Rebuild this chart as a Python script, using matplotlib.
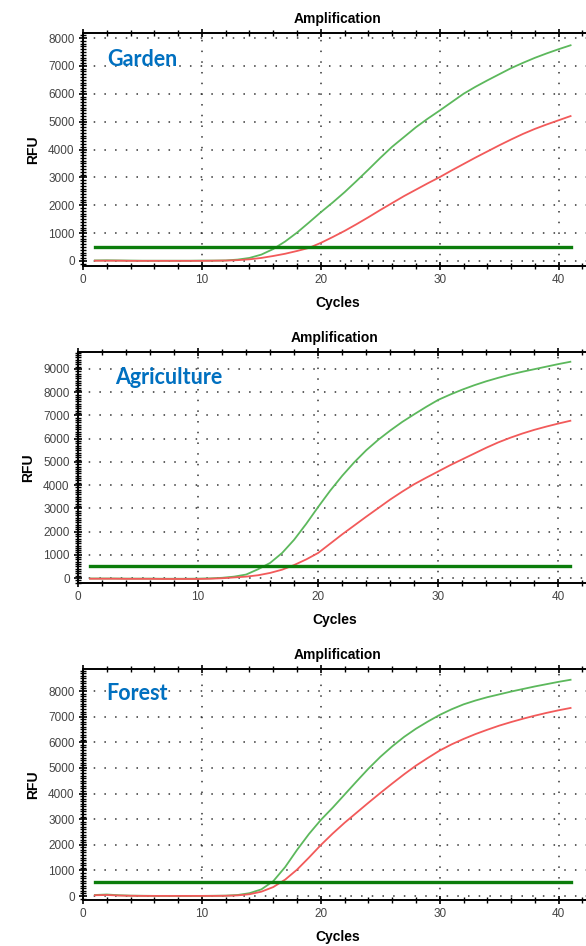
import matplotlib.pyplot as plt
from matplotlib.ticker import MultipleLocator
import numpy as np

plt.rcParams['font.family'] = ['Liberation Sans', 'DejaVu Sans']

cycles = np.arange(1, 42)

# Garden
garden_green = [20, 25, 20, 15, 10, 10, 10, 10, 10, 15, 15, 20, 50, 110, 230, 430, 700, 1020,
                1380, 1750, 2100, 2470, 2870, 3280, 3700, 4100, 4450, 4800, 5110, 5400, 5700,
                6000, 6250, 6480, 6700, 6920, 7110, 7290, 7450, 7600, 7740]
garden_red = [10, 10, 10, 5, 5, 5, 5, 5, 5, 5, 10, 15, 30, 60, 110, 180, 260, 360, 470, 650,
              860, 1080, 1320, 1570, 1830, 2080, 2330, 2560, 2790, 3010, 3250, 3480, 3710,
              3930, 4150, 4360, 4560, 4740, 4900, 5050, 5200]
garden_threshold = 500

# Agriculture
agri_green = [-20, -20, -20, -25, -25, -25, -30, -30, -30, -25, -15, 10, 60, 150, 380, 650,
              1080, 1650, 2330, 3060, 3760, 4400, 4980, 5500, 5950, 6350, 6720, 7050, 7370,
              7670, 7900, 8110, 8300, 8470, 8620, 8760, 8880, 8990, 9100, 9210, 9310]
agri_red = [-30, -30, -30, -35, -35, -35, -40, -40, -40, -40, -30, -10, 25, 60, 120, 220, 360,
            560, 800, 1080, 1480, 1880, 2260, 2640, 3010, 3380, 3720, 4040, 4320, 4590, 4860,
            5110, 5360, 5610, 5840, 6040, 6220, 6380, 6520, 6650, 6770]
agri_threshold = 520

# Forest
forest_green = [40, 60, 30, 15, 10, 5, 5, 5, 5, 5, 10, 15, 40, 110, 260, 580, 1130, 1800,
                2420, 2970, 3450, 3960, 4470, 4970, 5430, 5840, 6210, 6530, 6810, 7070, 7290,
                7480, 7630, 7760, 7870, 7980, 8080, 8180, 8270, 8360, 8440]
forest_red = [30, 40, 20, 10, 5, 5, 5, 5, 5, 5, 5, 10, 25, 70, 170, 350, 640, 1030, 1500, 1990,
              2440, 2860, 3250, 3640, 4020, 4390, 4750, 5090, 5390, 5680, 5920, 6130, 6320,
              6490, 6650, 6790, 6920, 7040, 7150, 7250, 7340]
forest_threshold = 550

panels = [
    ('Garden', garden_green, garden_red, garden_threshold, [0.1416, 0.7188, 0.8686, 0.2463],
     (-180, 8180), (0, 42.8), (107, 60)),
    ('Agriculture', agri_green, agri_red, agri_threshold, [0.1331, 0.3837, 0.8771, 0.2442],
     (-215, 9730), (0, 42.8), (115, 378)),
    ('Forest', forest_green, forest_red, forest_threshold, [0.1416, 0.0486, 0.8686, 0.2442],
     (-156, 8860), (0, 42.8), (106, 693)),
]

fig = plt.figure(figsize=(5.86, 9.46), dpi=100)

for name, green, red, thr, pos, ylim, xlim, lab in panels:
    ax = fig.add_axes(pos)
    ax.plot(cycles, green, color='#5cb85c', lw=1.3, zorder=3)
    ax.plot(cycles, red, color='#f25a5a', lw=1.3, zorder=3)
    ax.plot([cycles[0], cycles[-1]], [thr, thr], color='#0b7d0b', lw=2.4, zorder=4)

    ax.set_xlim(*xlim)
    ax.set_ylim(*ylim)
    ax.xaxis.set_major_locator(MultipleLocator(10))
    ax.xaxis.set_minor_locator(MultipleLocator(2))
    ax.yaxis.set_major_locator(MultipleLocator(1000))
    ax.yaxis.set_minor_locator(MultipleLocator(100))

    ax.grid(True, which='major', color='#333333', lw=1.1, linestyle=(0, (1, 6)))
    ax.spines['right'].set_visible(False)
    for s in ['left', 'bottom', 'top']:
        ax.spines[s].set_linewidth(1.4)

    ax.tick_params(which='major', direction='inout', length=6, width=1.2, pad=3,
                   labelsize=8.5, labelcolor='#444444', top=True)
    ax.tick_params(which='minor', direction='inout', length=4, width=1.0, top=True)
    ax.tick_params(axis='x', which='both', labeltop=False)

    ax.set_title('Amplification', fontsize=10, fontweight='bold', pad=7)
    ax.set_xlabel('Cycles', fontsize=10, fontweight='bold', labelpad=7)
    ax.set_ylabel('RFU', fontsize=10, fontweight='bold', labelpad=6)

    fig.text(lab[0] / 586, 1 - lab[1] / 946, name, color='#0070C0', fontsize=15.5,
             fontweight='bold', family=['Lato', 'DejaVu Sans'], va='center', ha='left')

fig.savefig('out.png', dpi=100)
